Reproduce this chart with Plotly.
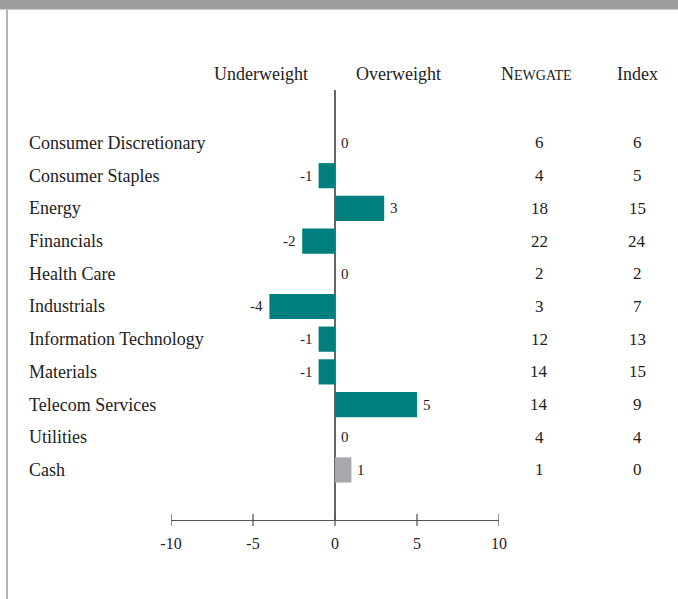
import plotly.graph_objects as go

categories = ["Consumer Discretionary", "Consumer Staples", "Energy", "Financials",
              "Health Care", "Industrials", "Information Technology", "Materials",
              "Telecom Services", "Utilities", "Cash"]
active_weight = [0, -1, 3, -2, 0, -4, -1, -1, 5, 0, 1]
newgate = [6, 4, 18, 22, 2, 3, 12, 14, 14, 4, 1]
index_w = [6, 5, 15, 24, 2, 7, 13, 15, 9, 4, 0]
tick_vals = [-10, -5, 0, 5, 10]

TEAL = "#007f7f"
GRAY = "#a7a9ac"
FONT = "Liberation Serif"
TXT = "#222222"

W, H = 678, 599
L, R = 171, 499
T, B = 90, 520
pw, ph = R - L, B - T

def px_x(p):
    return (p - L) / pw

def px_y(p):
    return (B - p) / ph

colors = [GRAY if c == "Cash" else TEAL for c in categories]

fig = go.Figure()
fig.add_trace(go.Bar(
    x=active_weight, y=categories, orientation="h",
    marker=dict(color=colors, line=dict(width=0)), width=0.77,
    hoverinfo="skip",
))

annotations = []
for c, v in zip(categories, active_weight):
    annotations.append(dict(x=v, y=c, xref="x", yref="y", text=str(v),
                            xanchor="right" if v < 0 else "left", yanchor="middle",
                            xshift=-4 if v < 0 else 4, showarrow=False,
                            font=dict(family=FONT, size=15, color=TXT)))
for c, n, ix in zip(categories, newgate, index_w):
    annotations.append(dict(x=px_x(27), y=c, xref="paper", yref="y", text=c,
                            xanchor="left", yanchor="middle", showarrow=False,
                            font=dict(family=FONT, size=18, color=TXT)))
    annotations.append(dict(x=px_x(539), y=c, xref="paper", yref="y", text=str(n),
                            xanchor="center", yanchor="middle", showarrow=False,
                            font=dict(family=FONT, size=17, color=TXT)))
    annotations.append(dict(x=px_x(637), y=c, xref="paper", yref="y", text=str(ix),
                            xanchor="center", yanchor="middle", showarrow=False,
                            font=dict(family=FONT, size=17, color=TXT)))

headers = [("Underweight", 261), ("Overweight", 398),
           ("N<span style='font-size:14px'>EWGATE</span>", 536), ("Index", 637)]
for t, xp in headers:
    annotations.append(dict(x=px_x(xp), y=px_y(74), xref="paper", yref="paper", text=t,
                            xanchor="center", yanchor="middle", showarrow=False,
                            font=dict(family=FONT, size=18, color=TXT)))

shapes = [
    dict(type="rect", xref="paper", yref="paper", x0=px_x(0), x1=px_x(W),
         y0=px_y(0), y1=px_y(9.5), fillcolor="#9e9e9e", line=dict(width=0), layer="below"),
    dict(type="rect", xref="paper", yref="paper", x0=px_x(6), x1=px_x(8),
         y0=px_y(9.5), y1=px_y(H), fillcolor="#b5b5b5", line=dict(width=0), layer="below"),
]
for t in tick_vals:
    shapes.append(dict(type="line", xref="x", yref="paper", x0=t, x1=t,
                       y0=px_y(514), y1=px_y(526), line=dict(color="#555555", width=1.3)))

fig.update_layout(
    width=W, height=H,
    margin=dict(l=L, r=W - R, t=T, b=H - B, pad=0),
    paper_bgcolor="white", plot_bgcolor="white",
    showlegend=False,
    annotations=annotations, shapes=shapes,
    xaxis=dict(range=[-10, 10], tickvals=tick_vals, ticktext=[str(v) for v in tick_vals],
               showgrid=False, zeroline=True, zerolinecolor="#666666", zerolinewidth=1.6,
               showline=True, linecolor="#555555", linewidth=1.3, ticks="",
               ticklabelstandoff=9,
               tickfont=dict(family=FONT, size=16, color=TXT), fixedrange=True),
    yaxis=dict(categoryorder="array", categoryarray=categories,
               range=[11.53, -1.62], showticklabels=False, showgrid=False,
               zeroline=False, showline=False, ticks="", fixedrange=True),
)

fig.write_html("out.html", config={"displayModeBar": False},
               post_script="document.body.style.margin='0px';document.body.style.overflow='hidden';")
